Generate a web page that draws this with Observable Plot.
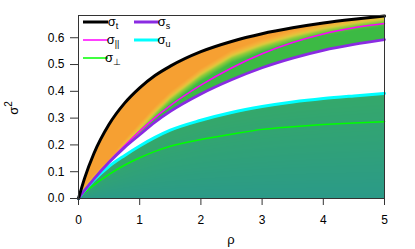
<!DOCTYPE html>
<html><head><meta charset="utf-8">
<script src="https://cdn.jsdelivr.net/npm/d3@7"></script>
<script src="https://cdn.jsdelivr.net/npm/@observablehq/plot@0.6"></script>
<style>html,body{margin:0;padding:0;background:#fff}</style>
</head><body><div id="chart"></div>
<script>
// ---- data ----
const rho      = [0, 0.1, 0.25, 0.5, 0.75, 1, 1.25, 1.5, 2, 2.5, 3, 3.5, 4, 4.5, 5];
const sigmaT   = [0, 0.076, 0.167, 0.277, 0.355, 0.413, 0.459, 0.494, 0.548, 0.586, 0.615, 0.637, 0.655, 0.669, 0.681];
const sigmaPar = [0, 0.031, 0.074, 0.139, 0.197, 0.252, 0.302, 0.347, 0.423, 0.487, 0.540, 0.582, 0.614, 0.637, 0.653];
const sigmaS   = [0, 0.030, 0.072, 0.135, 0.190, 0.238, 0.285, 0.325, 0.390, 0.443, 0.488, 0.524, 0.553, 0.575, 0.593];
const sigmaU   = [0, 0.030, 0.068, 0.120, 0.160, 0.196, 0.228, 0.255, 0.292, 0.321, 0.343, 0.360, 0.373, 0.383, 0.392];
const sigmaPerp= [0, 0.022, 0.050, 0.090, 0.124, 0.152, 0.176, 0.195, 0.220, 0.240, 0.258, 0.268, 0.276, 0.282, 0.287];
// level where the band turns from green (below) to orange (above)
const mixLevel = [0, 0.028, 0.068, 0.125, 0.195, 0.258, 0.320, 0.375, 0.462, 0.530, 0.572, 0.605, 0.632, 0.652, 0.668];
const xTicks = [0, 1, 2, 3, 4, 5];
const yTicks = [0, 0.1, 0.2, 0.3, 0.4, 0.5, 0.6];
const yMax = 0.683;

const series = [
  {key: "perp", values: sigmaPerp, color: "#00ff00", width: 1.5},
  {key: "u",    values: sigmaU,    color: "#00ffff", width: 3},
  {key: "par",  values: sigmaPar,  color: "#ff00ff", width: 1.5},
  {key: "s",    values: sigmaS,    color: "#8a2be2", width: 2.8},
  {key: "t",    values: sigmaT,    color: "#000000", width: 3}
];
const legendItems = [
  {sub: "t",  color: "#000000", width: 3,   col: 0, row: 0},
  {sub: "s",  color: "#8a2be2", width: 3,   col: 1, row: 0},
  {sub: "||", color: "#ff00ff", width: 1.5, col: 0, row: 1},
  {sub: "u",  color: "#00ffff", width: 3,   col: 1, row: 1},
  {sub: "⊥",  color: "#00ff00", width: 1.5, col: 0, row: 2}
];

const interp = arr => d3.scaleLinear(rho, arr).clamp(true);
const T = interp(sigmaT), S = interp(sigmaS), U = interp(sigmaU), M = interp(mixLevel);

const field = (x, y) => {
  const u = U(x);
  if (y <= u) return u > 0 ? y / u : 0;
  const s = S(x), t = T(x);
  if (y >= s && y <= t) return 2 + Math.max(0, Math.min(1, 0.5 + (y - M(x)) / 0.05));
  return NaN;
};

const lineData = series.flatMap(sr => rho.map((r, i) => ({key: sr.key, r, v: sr.values[i]})));

const plot = Plot.plot({
  width: 415, height: 249,
  marginLeft: 78, marginRight: 31, marginTop: 15, marginBottom: 51,
  style: {fontFamily: "'Liberation Sans', Arial, sans-serif", fontSize: "12px", background: "#fff", color: "#000"},
  x: {domain: [0, 5]},
  y: {domain: [0, yMax]},
  color: {type: "linear", domain: [0, 1, 2, 2.35, 2.55, 2.75, 3],
          range: ["#2b9a88", "#35a86a", "#3cba44", "#8ccc3c", "#dccb3c", "#f4b23a", "#f6a032"]},
  marks: [
    Plot.raster({fill: field, x1: 0, x2: 5, y1: 0, y2: yMax, pixelSize: 1}),
    ...series.map(sr => Plot.line(lineData.filter(d => d.key === sr.key),
      {x: "r", y: "v", stroke: sr.color, strokeWidth: sr.width, curve: "monotone-x"})),
    Plot.frame({stroke: "#333", strokeWidth: 1}),
    Plot.axisX({ticks: xTicks, tickFormat: d => String(d), tickSize: 7, tickPadding: 10, label: null, stroke: "#333"}),
    Plot.axisY({ticks: yTicks, tickFormat: d3.format(".1f"), tickSize: 8, tickPadding: 6, label: null, stroke: "#333"})
  ]
});
document.getElementById("chart").appendChild(plot);

const svg = d3.select(plot);
// axis titles
svg.append("text").attr("x", 231).attr("y", 244).attr("text-anchor", "middle")
  .style("font-size", "13px").text("ρ");
const yl = svg.append("text").attr("transform", "translate(18,108) rotate(-90)")
  .attr("text-anchor", "middle").style("font-size", "13px");
yl.append("tspan").text("σ");
yl.append("tspan").attr("dy", -6).style("font-size", "10px").text("2");

// legend
const lg = svg.append("g");
legendItems.forEach(it => {
  const x0 = 83 + it.col * 51, y0 = 22 + it.row * 18;
  lg.append("line").attr("x1", x0).attr("x2", x0 + 25).attr("y1", y0).attr("y2", y0)
    .attr("stroke", it.color).attr("stroke-width", it.width);
  const t = lg.append("text").attr("x", x0 + 30).attr("y", y0 + 4).style("font-size", "13px");
  t.append("tspan").text("σ");
  t.append("tspan").attr("dy", 3).style("font-size", "9px").text(it.sub);
});
</script>
</body></html>
